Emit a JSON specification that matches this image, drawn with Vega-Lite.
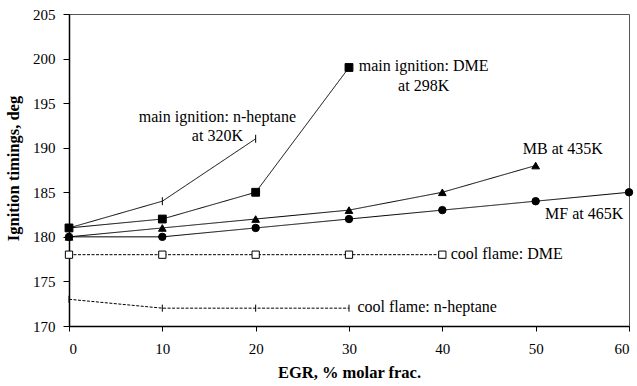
{
  "$schema": "https://vega.github.io/schema/vega-lite/v6.json",
  "width": 560,
  "height": 312,
  "autosize": {"type": "none"},
  "padding": {"left": 69, "top": 14, "right": 8, "bottom": 60},
  "background": "white",
  "config": {
    "view": {"stroke": "#555", "strokeWidth": 1},
    "font": "Liberation Serif",
    "text": {"font": "Liberation Serif"},
    "axis": {
      "grid": false,
      "domainColor": "black",
      "domainWidth": 1.5,
      "tickColor": "black",
      "tickSize": 6,
      "labelColor": "black",
      "labelFont": "Liberation Serif",
      "labelFontSize": 15,
      "titleFont": "Liberation Serif",
      "titleFontSize": 16.5,
      "titleFontWeight": "bold",
      "titleColor": "black"
    }
  },
  "datasets": {
    "series": [
      {"s": "nhep_main", "x": 0, "y": 181},
      {"s": "nhep_main", "x": 10, "y": 184},
      {"s": "nhep_main", "x": 20, "y": 191},
      {"s": "dme_main", "x": 0, "y": 181},
      {"s": "dme_main", "x": 10, "y": 182},
      {"s": "dme_main", "x": 20, "y": 185},
      {"s": "dme_main", "x": 30, "y": 199},
      {"s": "mb", "x": 0, "y": 180},
      {"s": "mb", "x": 10, "y": 181},
      {"s": "mb", "x": 20, "y": 182},
      {"s": "mb", "x": 30, "y": 183},
      {"s": "mb", "x": 40, "y": 185},
      {"s": "mb", "x": 50, "y": 188},
      {"s": "mf", "x": 0, "y": 180},
      {"s": "mf", "x": 10, "y": 180},
      {"s": "mf", "x": 20, "y": 181},
      {"s": "mf", "x": 30, "y": 182},
      {"s": "mf", "x": 40, "y": 183},
      {"s": "mf", "x": 50, "y": 184},
      {"s": "mf", "x": 60, "y": 185},
      {"s": "dme_cool", "x": 0, "y": 178},
      {"s": "dme_cool", "x": 10, "y": 178},
      {"s": "dme_cool", "x": 20, "y": 178},
      {"s": "dme_cool", "x": 30, "y": 178},
      {"s": "dme_cool", "x": 40, "y": 178},
      {"s": "nhep_cool", "x": 0, "y": 173},
      {"s": "nhep_cool", "x": 10, "y": 172},
      {"s": "nhep_cool", "x": 20, "y": 172},
      {"s": "nhep_cool", "x": 30, "y": 172}
    ],
    "centerLabels": [
      {"t": "main ignition: n-heptane", "x": 15.9, "y": 193.5},
      {"t": "at 320K", "x": 15.9, "y": 191.3},
      {"t": "main ignition: DME", "x": 38.0, "y": 199.2},
      {"t": "at 298K", "x": 38.0, "y": 196.9},
      {"t": "MB at 435K", "x": 52.9, "y": 189.9},
      {"t": "MF at 465K", "x": 55.2, "y": 182.6}
    ],
    "leftLabels": [
      {"t": "cool flame: DME", "x": 40.9, "y": 178.1},
      {"t": "cool flame: n-heptane", "x": 30.9, "y": 172.1}
    ]
  },
  "layer": [
    {
      "data": {"name": "series"},
      "mark": {"type": "line", "color": "black", "strokeWidth": 1},
      "encoding": {
        "x": {"field": "x", "type": "quantitative",
          "scale": {"domain": [0, 60], "nice": false},
          "axis": {"values": [0, 10, 20, 30, 40, 50, 60], "tickSize": 5, "labelPadding": 10,
            "title": "EGR, % molar frac.", "titleY": 46, "titleBaseline": "middle"}},
        "y": {"field": "y", "type": "quantitative",
          "scale": {"domain": [170, 205], "nice": false, "zero": false},
          "axis": {"values": [170, 175, 180, 185, 190, 195, 200, 205], "labelPadding": 8,
            "title": "Ignition timings, deg", "titleX": -56, "titleY": 154, "titleBaseline": "middle"}},
        "detail": {"field": "s"},
        "strokeDash": {"field": "s", "type": "nominal", "legend": null,
          "scale": {"domain": ["nhep_main", "dme_main", "mb", "mf", "dme_cool", "nhep_cool"],
            "range": [[1, 0], [1, 0], [1, 0], [1, 0], [3, 1.5], [3, 1.5]]}}
      }
    },
    {
      "data": {"name": "series"},
      "mark": {"type": "point", "filled": true, "stroke": "black", "strokeWidth": 1, "opacity": 1},
      "encoding": {
        "x": {"field": "x", "type": "quantitative"},
        "y": {"field": "y", "type": "quantitative"},
        "shape": {"field": "s", "type": "nominal", "legend": null,
          "scale": {"domain": ["nhep_main", "dme_main", "mb", "mf", "dme_cool", "nhep_cool"],
            "range": ["M0,-1L0,1", "square", "triangle-up", "circle", "square", "M0,-1L0,1"]}},
        "fill": {"field": "s", "type": "nominal", "legend": null,
          "scale": {"domain": ["nhep_main", "dme_main", "mb", "mf", "dme_cool", "nhep_cool"],
            "range": ["black", "black", "black", "black", "white", "black"]}},
        "size": {"field": "s", "type": "nominal", "legend": null,
          "scale": {"domain": ["nhep_main", "dme_main", "mb", "mf", "dme_cool", "nhep_cool"],
            "range": [64, 50, 50, 50, 40, 64]}}
      }
    },
    {
      "data": {"name": "centerLabels"},
      "mark": {"type": "text", "align": "center", "baseline": "middle", "fontSize": 16, "font": "Liberation Serif", "color": "black"},
      "encoding": {
        "x": {"field": "x", "type": "quantitative"},
        "y": {"field": "y", "type": "quantitative"},
        "text": {"field": "t"}
      }
    },
    {
      "data": {"name": "leftLabels"},
      "mark": {"type": "text", "align": "left", "baseline": "middle", "fontSize": 16, "font": "Liberation Serif", "color": "black"},
      "encoding": {
        "x": {"field": "x", "type": "quantitative"},
        "y": {"field": "y", "type": "quantitative"},
        "text": {"field": "t"}
      }
    }
  ]
}
